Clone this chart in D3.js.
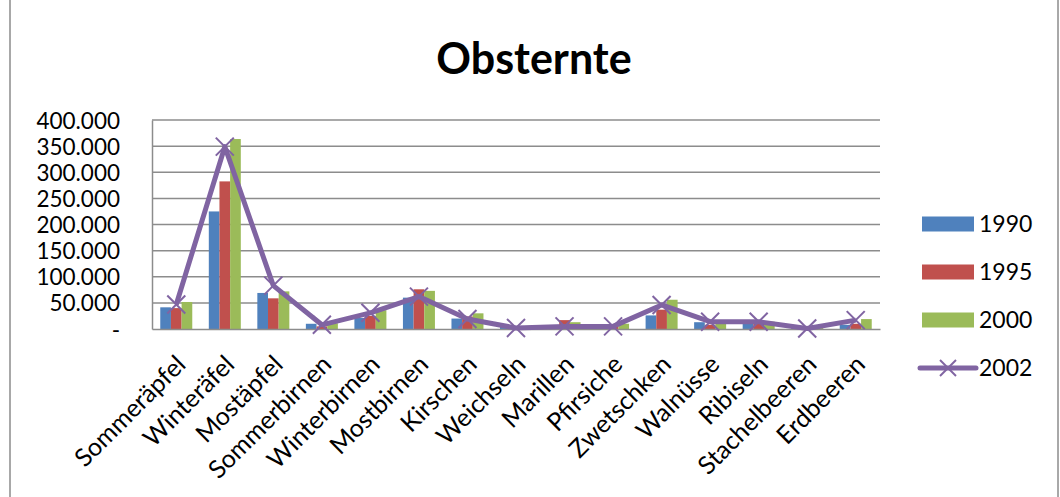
<!DOCTYPE html>
<html>
<head>
<meta charset="utf-8">
<script src="https://cdn.jsdelivr.net/npm/d3@7"></script>
<style>
  body { margin: 0; background: #fff; }
  text { font-family: Lato, "Open Sans", sans-serif; fill: #000; }
</style>
</head>
<body>
<script>
// Obsternte data
var categories = ['Sommeräpfel', 'Winteräfel', 'Mostäpfel', 'Sommerbirnen', 'Winterbirnen',
  'Mostbirnen', 'Kirschen', 'Weichseln', 'Marillen', 'Pfirsiche', 'Zwetschken',
  'Walnüsse', 'Ribiseln', 'Stachelbeeren', 'Erdbeeren'];
var barYears = ['1990', '1995', '2000'];
var v1990 = [41500, 225000, 69000, 10000, 21000, 60000, 20000, 4000, 5000, 4000, 26000, 13000, 13000, 2000, 8000];
var v1995 = [40000, 282500, 58700, 5000, 25000, 76000, 24000, 3000, 17000, 5000, 37000, 8000, 10000, 1500, 10000];
var v2000 = [51700, 363600, 72000, 11000, 36000, 73000, 30000, 3000, 13000, 10000, 56000, 12000, 14000, 2000, 19000];
var v2002 = [47000, 349000, 83000, 8000, 31000, 62000, 19000, 2000, 5000, 5000, 46000, 14000, 14000, 1000, 17000];
var yTicks = [0, 50000, 100000, 150000, 200000, 250000, 300000, 350000, 400000];

var barColors = ['#4F81BD', '#C0504D', '#9BBB59'];
var lineColor = '#8064A2';

var width = 1060, height = 497;
var plot = {left: 152, right: 880, top: 120, bottom: 329};

var svg = d3.select("body").append("svg")
    .attr("width", width)
    .attr("height", height);

// outer chart border
svg.append("rect")
    .attr("x", 10).attr("y", -2)
    .attr("width", 1048).attr("height", 530)
    .attr("fill", "none")
    .attr("stroke", "#8c8c8c")
    .attr("stroke-width", 1.5);

svg.append("text")
    .attr("x", 534).attr("y", 74)
    .attr("text-anchor", "middle")
    .style("font-size", "43px")
    .style("font-weight", "bold")
    .text("Obsternte");

var x = d3.scaleBand().domain(categories).range([plot.left, plot.right]);
var xs = d3.scaleBand().domain(barYears).range([0, 32]);
var y = d3.scaleLinear().domain([0, 400000]).range([plot.bottom, plot.top]);

var de = d3.formatLocale({decimal: ",", thousands: ".", grouping: [3], currency: ["", " €"]});
var fmt = de.format(",.0f");

// gridlines
svg.append("g").selectAll("line")
    .data(yTicks.slice(1))
  .enter().append("line")
    .attr("x1", plot.left).attr("x2", plot.right)
    .attr("y1", function(d) { return y(d); })
    .attr("y2", function(d) { return y(d); })
    .attr("stroke", "#8c8c8c")
    .attr("stroke-width", 1.5);

// y axis
var yAxis = svg.append("g")
    .attr("transform", "translate(" + plot.left + ",0)")
    .call(d3.axisLeft(y).tickValues(yTicks).tickSize(0).tickPadding(32)
      .tickFormat(function(d) { return d === 0 ? "-" : fmt(d); }));
yAxis.select(".domain").attr("stroke", "#8c8c8c").attr("stroke-width", 1.5);
yAxis.selectAll("text")
    .attr("dy", "0.36em")
    .style("font-size", "22.5px")
    .style("font-family", "Lato, sans-serif");

// bars
var series = [v1990, v1995, v2000];
series.forEach(function(vals, si) {
  svg.append("g").selectAll("rect")
      .data(vals)
    .enter().append("rect")
      .attr("x", function(d, i) { return x(categories[i]) + x.bandwidth() / 2 - 16 + xs(barYears[si]); })
      .attr("width", xs.bandwidth())
      .attr("y", function(d) { return y(d); })
      .attr("height", function(d) { return plot.bottom - y(d); })
      .attr("fill", barColors[si]);
});

// x axis line
var xAxis = svg.append("g")
    .attr("transform", "translate(0," + plot.bottom + ")")
    .call(d3.axisBottom(x).tickSize(0).tickFormat(""));
xAxis.select(".domain").attr("stroke", "#8c8c8c").attr("stroke-width", 1.5);

// x labels
svg.append("g").selectAll("text")
    .data(categories)
  .enter().append("text")
    .attr("transform", function(d) {
      return "translate(" + (x(d) + x.bandwidth() / 2 + 11) + "," + (plot.bottom + 37) + ") rotate(-45)";
    })
    .attr("text-anchor", "end")
    .style("font-size", "25px")
    .text(function(d) { return d; });

// 2002 line
var line = d3.line()
    .x(function(d, i) { return x(categories[i]) + x.bandwidth() / 2; })
    .y(function(d) { return y(d); });

svg.append("path")
    .datum(v2002)
    .attr("d", line)
    .attr("fill", "none")
    .attr("stroke", lineColor)
    .attr("stroke-width", 5)
    .attr("stroke-linejoin", "round");

function cross(sel, s) {
  sel.append("line").attr("x1", -s).attr("y1", -s).attr("x2", s).attr("y2", s);
  sel.append("line").attr("x1", -s).attr("y1", s).attr("x2", s).attr("y2", -s);
}

svg.append("g").selectAll("g")
    .data(v2002)
  .enter().append("g")
    .attr("transform", function(d, i) {
      return "translate(" + (x(categories[i]) + x.bandwidth() / 2) + "," + y(d) + ")";
    })
    .attr("stroke", lineColor)
    .attr("stroke-width", 2)
    .each(function() { cross(d3.select(this), 9); });

// legend
var legendNames = ['1990', '1995', '2000', '2002'];
var lg = svg.append("g").selectAll("g")
    .data(legendNames)
  .enter().append("g")
    .attr("transform", function(d, i) { return "translate(922," + (224 + i * 48) + ")"; });

lg.filter(function(d, i) { return i < 3; })
  .append("rect")
    .attr("x", 0).attr("y", -7.5)
    .attr("width", 52).attr("height", 15)
    .attr("fill", function(d, i) { return barColors[i]; });

var lastItem = lg.filter(function(d, i) { return i === 3; });
lastItem.append("line")
    .attr("x1", -2).attr("x2", 54)
    .attr("y1", 0).attr("y2", 0)
    .attr("stroke", lineColor)
    .attr("stroke-width", 5)
    .attr("stroke-linecap", "round");
lastItem.append("g")
    .attr("transform", "translate(26,0)")
    .attr("stroke", lineColor)
    .attr("stroke-width", 2)
    .each(function() { cross(d3.select(this), 8); });

lg.append("text")
    .attr("x", 57).attr("y", 0)
    .attr("dy", "0.36em")
    .style("font-size", "23px")
    .text(function(d) { return d; });
</script>
</body>
</html>
